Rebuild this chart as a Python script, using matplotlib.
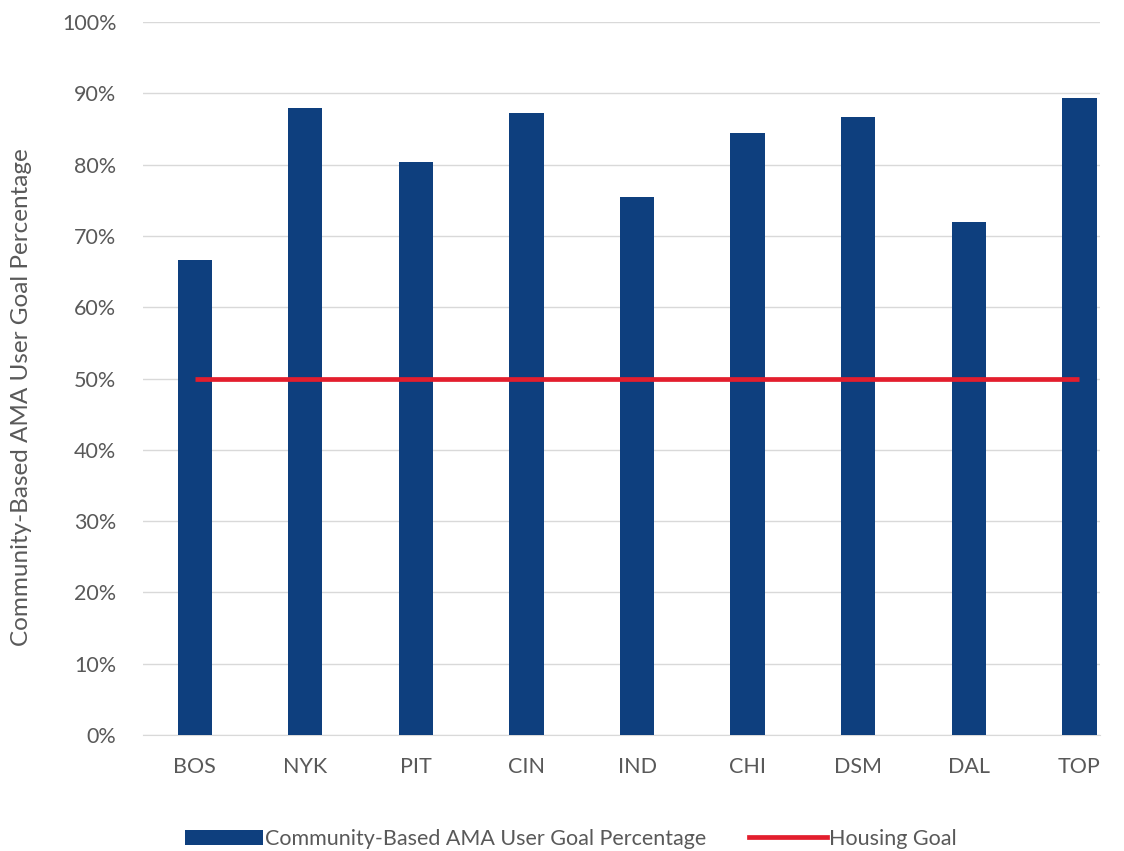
import matplotlib
matplotlib.use("Agg")
import matplotlib.pyplot as plt
from matplotlib.lines import Line2D
from matplotlib.patches import Patch
from matplotlib.ticker import FuncFormatter, MultipleLocator

# values
cities = ["BOS", "NYK", "PIT", "CIN", "IND", "CHI", "DSM", "DAL", "TOP"]
user_goal_pct = [66.6, 88.0, 80.4, 87.2, 75.5, 84.4, 86.7, 71.9, 89.3]
housing_goal_pct = [50, 50, 50, 50, 50, 50, 50, 50, 50]

BAR_COLOR = "#0E3F7E"
LINE_COLOR = "#E31E2D"
TEXT_COLOR = "#595959"
GRID_COLOR = "#D9D9D9"

plt.rcParams.update({
    "font.family": ["Lato", "DejaVu Sans"],
    "font.size": 15.5,
})

fig = plt.figure(figsize=(11.24, 8.51), dpi=100)
ax = fig.add_axes([0.127, 0.1363, 0.852, 0.8377])

x = list(range(len(cities)))
ax.bar(x, user_goal_pct, width=0.31, color=BAR_COLOR, zorder=3)
ax.plot(x, housing_goal_pct, color=LINE_COLOR, lw=3.4, zorder=4,
        solid_capstyle="butt")

ax.set_ylim(0, 100)
ax.set_xlim(-0.47, 8.19)
ax.yaxis.set_major_locator(MultipleLocator(10))
ax.yaxis.set_major_formatter(FuncFormatter(lambda v, _: f"{v:.0f}%"))
ax.set_xticks(x)
ax.set_xticklabels(cities)
ax.grid(axis="y", color=GRID_COLOR, lw=1.0, zorder=0)
for s in ["top", "right", "left"]:
    ax.spines[s].set_visible(False)
ax.spines["bottom"].set_color(GRID_COLOR)
ax.tick_params(axis="both", length=0, colors=TEXT_COLOR, labelsize=15.5)
ax.tick_params(axis="y", pad=19)
ax.tick_params(axis="x", pad=16)

fig.text(22 / 1124, 1 - 397 / 851, "Community-Based AMA User Goal Percentage",
         rotation=90, ha="center", va="center", color=TEXT_COLOR, fontsize=17.5)

handles = [
    Patch(facecolor=BAR_COLOR, edgecolor="none"),
    Line2D([0], [0], color=LINE_COLOR, lw=3.4),
]
labels = ["Community-Based AMA User Goal Percentage", "Housing Goal"]
fig.legend(handles, labels, loc="lower center", bbox_to_anchor=(0.508, -0.02),
           ncol=2, frameon=False, fontsize=15.5, handlelength=3.6,
           handletextpad=0.1, columnspacing=2.0, labelcolor=TEXT_COLOR)

fig.savefig("out.png", dpi=100, facecolor="white")
